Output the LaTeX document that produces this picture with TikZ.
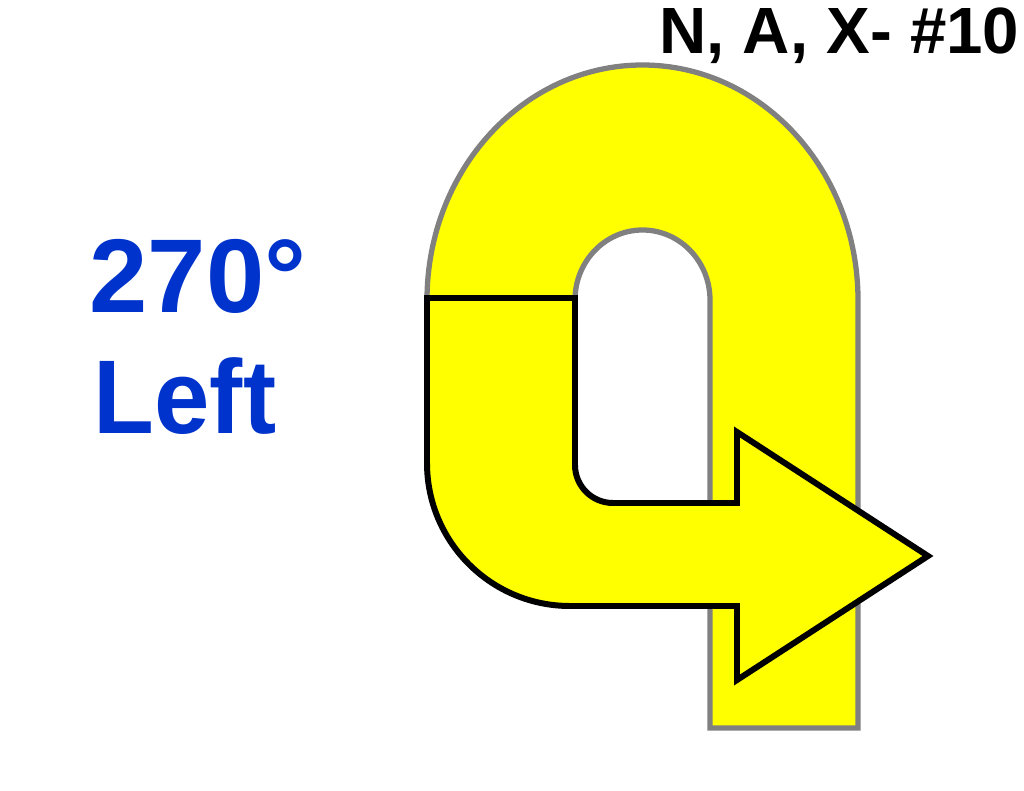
\documentclass[tikz,border=0pt]{standalone}
\usepackage{fontspec}
\setmainfont{Liberation Sans}
\definecolor{turnyellow}{RGB}{255,255,0}
\definecolor{turnblue}{RGB}{0,51,204}
\definecolor{pathgray}{RGB}{128,128,128}
\begin{document}
\begin{tikzpicture}[x=0.01cm,y=-0.01cm,line join=miter,
  uturn/.style={fill=turnyellow,draw=pathgray,line width=1.5pt},
  turnarrow/.style={fill=turnyellow,draw=black,line width=1.7pt},
  bluelabel/.style={text=turnblue,font=\fontsize{29.8}{34}\selectfont\bfseries,inner sep=0pt,anchor=base west},
  titlelabel/.style={font=\fontsize{18.6}{22}\selectfont\bfseries,inner sep=0pt,anchor=base east}]
\useasboundingbox (0,0) rectangle (1024,791);
% U-shaped lane (gray outline)
\draw[uturn] (710,728) -- (858,728) -- (858,300)
  arc[start angle=0,end angle=-180,x radius=215.5,y radius=235] -- (575,300)
  arc[start angle=-180,end angle=0,x radius=67.5,y radius=70] -- cycle;
% turning arrow (black outline)
\draw[turnarrow] (427,298) -- (575,298) -- (575,465)
  .. controls (575,486) and (592,503) .. (613,503) -- (737,503)
  -- (737,432) -- (928,556) -- (737,680) -- (737,606) -- (570,606)
  .. controls (491,606) and (427,542) .. (427,463) -- cycle;
% labels
\node[bluelabel] (angle) at (89,312) {270°};
\node[bluelabel,xscale=0.95] (dir) at (93,433) {Left};
\node[titlelabel] (title) at (1020,54) {N, A, X- \#10};
\end{tikzpicture}
\end{document}
